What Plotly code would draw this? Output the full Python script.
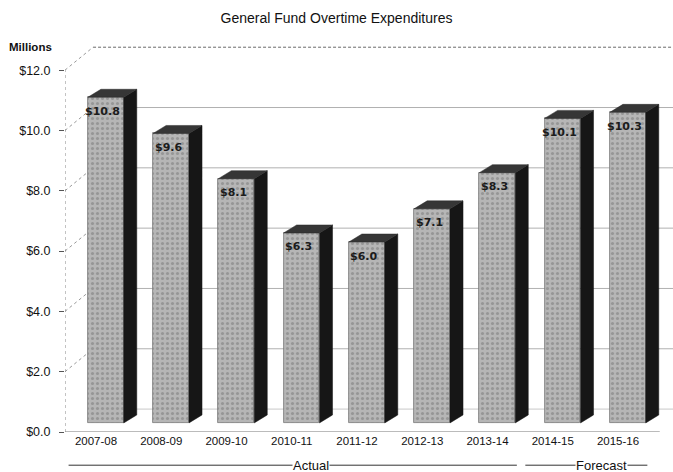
import plotly.graph_objects as go

# ---- data ----
categories = ["2007-08", "2008-09", "2009-10", "2010-11", "2011-12",
              "2012-13", "2013-14", "2014-15", "2015-16"]
values = [10.8, 9.6, 8.1, 6.3, 6.0, 7.1, 8.3, 10.1, 10.3]
value_labels = ["$10.8", "$9.6", "$8.1", "$6.3", "$6.0", "$7.1", "$8.3", "$10.1", "$10.3"]
y_ticks = [0, 2, 4, 6, 8, 10, 12]
y_tick_labels = ["$0.0", "$2.0", "$4.0", "$6.0", "$8.0", "$10.0", "$12.0"]
groups = [("Actual", 0, 6), ("Forecast", 7, 8)]

# ---- pseudo-3D geometry (data units) ----
W, H = 673, 472
ml, mr, mt, mb = 65, 0, 46, 40
x_range = [-0.475, 8.843]
y_range = [0, 12.8]
bar_shift = 0.15      # bars sit back from the floor front edge
bar_width = 0.55
bar_base = 0.3
side_dx, side_dy = 0.2, 0.265   # bar depth
wall_dx, wall_dy = 0.43, 0.76   # wall depth

xs = [i + bar_shift for i in range(len(categories))]

fig = go.Figure()

fig.add_trace(go.Bar(
    x=xs, y=values, base=bar_base, width=bar_width,
    marker=dict(color="#b0b0b0",
                line=dict(color="#777777", width=0.8),
                pattern=dict(shape=".", fgcolor="#969696", bgcolor="#b6b6b6",
                             size=5, solidity=0.3, fillmode="replace")),
    hoverinfo="skip", showlegend=False))

# side and top faces
sx, sy, tx, ty = [], [], [], []
for x, v in zip(xs, values):
    xl, xr = x - bar_width / 2, x + bar_width / 2
    top = v + bar_base
    sx += [xr, xr + side_dx, xr + side_dx, xr, xr, None]
    sy += [bar_base, bar_base + side_dy, top + side_dy, top, bar_base, None]
    tx += [xl, xl + side_dx, xr + side_dx, xr, xl, None]
    ty += [top, top + side_dy, top + side_dy, top, top, None]

fig.add_trace(go.Scatter(x=sx, y=sy, fill="toself", fillcolor="#161616",
                         mode="lines", line=dict(color="#161616", width=0.5),
                         hoverinfo="skip", showlegend=False))
fig.add_trace(go.Scatter(x=tx, y=ty, fill="toself", fillcolor="#363636",
                         mode="lines", line=dict(color="#2a2a2a", width=0.5),
                         hoverinfo="skip", showlegend=False))

shapes = []
x0 = x_range[0]
# back wall gridlines + diagonal connectors
for t in y_ticks:
    if t == 0:
        continue
    top = t == y_ticks[-1]
    shapes.append(dict(type="line", xref="x", yref="y", layer="below",
                       x0=x0 + wall_dx, x1=x_range[1], y0=t + wall_dy, y1=t + wall_dy,
                       line=dict(color="#6a6a6a" if top else "#b0b0b0",
                                 width=1, dash="3px,2px" if top else "solid")))
    shapes.append(dict(type="line", xref="x", yref="y", layer="below",
                       x0=x0, x1=x0 + wall_dx, y0=t, y1=t + wall_dy,
                       line=dict(color="#999", width=1, dash="dot")))
# floor
shapes.append(dict(type="line", xref="x", yref="y", layer="below",
                   x0=x0 + wall_dx, x1=x_range[1], y0=wall_dy, y1=wall_dy,
                   line=dict(color="#c8c8c8", width=1)))
shapes.append(dict(type="line", xref="x", yref="y", layer="below",
                   x0=x0, x1=8.64, y0=0, y1=0,
                   line=dict(color="#777", width=1)))
# left axis (dotted)
shapes.append(dict(type="line", xref="x", yref="y", layer="below",
                   x0=x0, x1=x0, y0=0, y1=y_ticks[-1],
                   line=dict(color="#888", width=1, dash="dot")))

annotations = []
for x, v, lab in zip(xs, values, value_labels):
    annotations.append(dict(x=x, y=v + bar_base, xref="x", yref="y", text=lab,
                            showarrow=False, yshift=-14, xshift=-3,
                            font=dict(family="DejaVu Sans", size=11, color="#1c1c1c",
                                      weight="bold")))

annotations.append(dict(x=-0.057, y=0.997, xref="paper", yref="paper", text="Millions",
                        showarrow=False, xanchor="center", yanchor="middle",
                        font=dict(family="Liberation Sans", size=11.5, color="#111",
                                  weight="bold")))

for name, a, b in groups:
    shapes.append(dict(type="line", xref="x", yref="paper",
                       x0=a - 0.42, x1=b + 0.45, y0=-0.086, y1=-0.086,
                       line=dict(color="#333", width=1)))
    annotations.append(dict(x=(a + b) / 2 + (0.25 if name == "Forecast" else 0.3),
                            y=-0.088, xref="x", yref="paper", text=name,
                            showarrow=False, bgcolor="white", borderpad=0,
                            yanchor="middle",
                            font=dict(family="Liberation Sans", size=13, color="#111")))

fig.update_layout(
    width=W, height=H,
    margin=dict(l=ml, r=mr, t=mt, b=mb),
    paper_bgcolor="white", plot_bgcolor="white",
    title=dict(text="General Fund Overtime Expenditures", x=0.5, xanchor="center",
               y=0.962, yanchor="middle",
               font=dict(family="Liberation Sans", size=14, color="#111")),
    xaxis=dict(range=x_range, tickmode="array", tickvals=list(range(len(categories))),
               ticktext=categories, showgrid=False, zeroline=False, showline=False,
               ticks="", tickfont=dict(family="Liberation Sans", size=11.5, color="#111")),
    yaxis=dict(range=y_range, tickmode="array", tickvals=y_ticks, ticktext=y_tick_labels,
               showgrid=False, zeroline=False, showline=False,
               ticks="outside", ticklen=5, tickcolor="#555", ticklabelstandoff=6,
               tickfont=dict(family="Liberation Sans", size=12.5, color="#111")),
    shapes=shapes, annotations=annotations,
    bargap=0,
)

fig.write_html("out.html")
